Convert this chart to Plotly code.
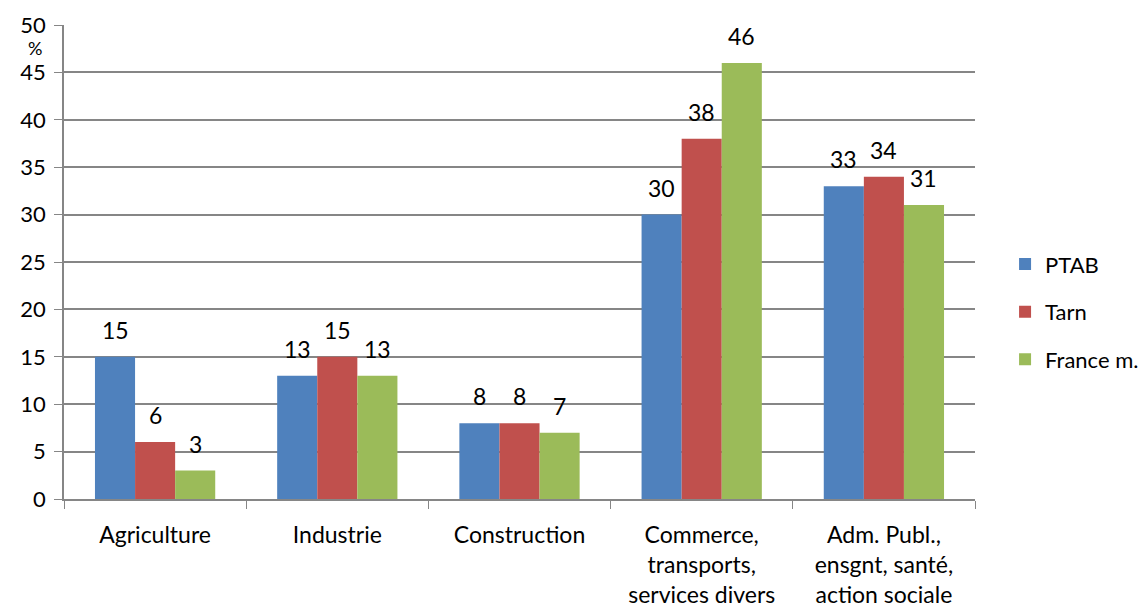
import plotly.graph_objects as go

categories = ["Agriculture", "Industrie", "Construction",
              "Commerce,<br>transports,<br>services divers",
              "Adm. Publ.,<br>ensgnt, santé,<br>action sociale"]
ptab = [15, 13, 8, 30, 33]
tarn = [6, 15, 8, 38, 34]
france = [3, 13, 7, 46, 31]

series = [("PTAB", ptab, "#4F81BD"), ("Tarn", tarn, "#C0504D"), ("France m.", france, "#9BBB59")]

FONT = "Lato, Carlito, Calibri, sans-serif"
FS = 23
BARGAP = 0.34
L, R, T, B = 64, 169, 25, 109
cat_w = (1144 - L - R) / len(categories)
bar_w = cat_w * (1 - BARGAP) / len(series)

fig = go.Figure()
for i, (name, vals, col) in enumerate(series):
    fig.add_trace(go.Bar(
        x=categories, y=vals, name=name, marker=dict(color=col, line=dict(width=0)),
        legendgroup="g%d" % i,
    ))
    for c, v in zip(categories, vals):
        fig.add_annotation(x=c, y=v, xref="x", yref="y", text=str(v),
                           showarrow=False, xshift=(i - 1) * bar_w, yshift=27,
                           yanchor="middle",
                           font=dict(size=FS, family=FONT, color="#000000"))

fig.update_layout(
    width=1144, height=608,
    margin=dict(l=L, r=R, t=T, b=B, autoexpand=False),
    barmode="group", bargap=BARGAP, bargroupgap=0,
    plot_bgcolor="white", paper_bgcolor="white",
    font=dict(family=FONT, size=FS, color="#000000"),
    showlegend=True,
    legend=dict(x=1.033, y=0.395, yanchor="middle", xanchor="left",
                font=dict(size=FS - 1, family=FONT), tracegroupgap=16,
                itemwidth=30),
)
fig.update_xaxes(
    type="category", tickson="boundaries", ticks="outside", ticklen=8,
    tickcolor="#868686", showline=True, linecolor="#868686", linewidth=1.5,
    showgrid=False, tickfont=dict(size=FS, family=FONT), ticklabelstandoff=15,
    automargin=False,
)
fig.update_yaxes(
    range=[0, 50], dtick=5, ticks="outside", ticklen=8, tickcolor="#868686",
    showline=True, linecolor="#868686", linewidth=1.5,
    showgrid=True, gridcolor="#868686", gridwidth=1.5,
    zeroline=False, tickfont=dict(size=22, family=FONT), ticklabelstandoff=4,
    automargin=False,
)
fig.add_annotation(text="%", x=0, xref="paper", xanchor="right", xshift=-20,
                   y=47.6, yref="y", yanchor="middle", showarrow=False,
                   font=dict(size=18, family=FONT))
fig.write_html("out.html")
